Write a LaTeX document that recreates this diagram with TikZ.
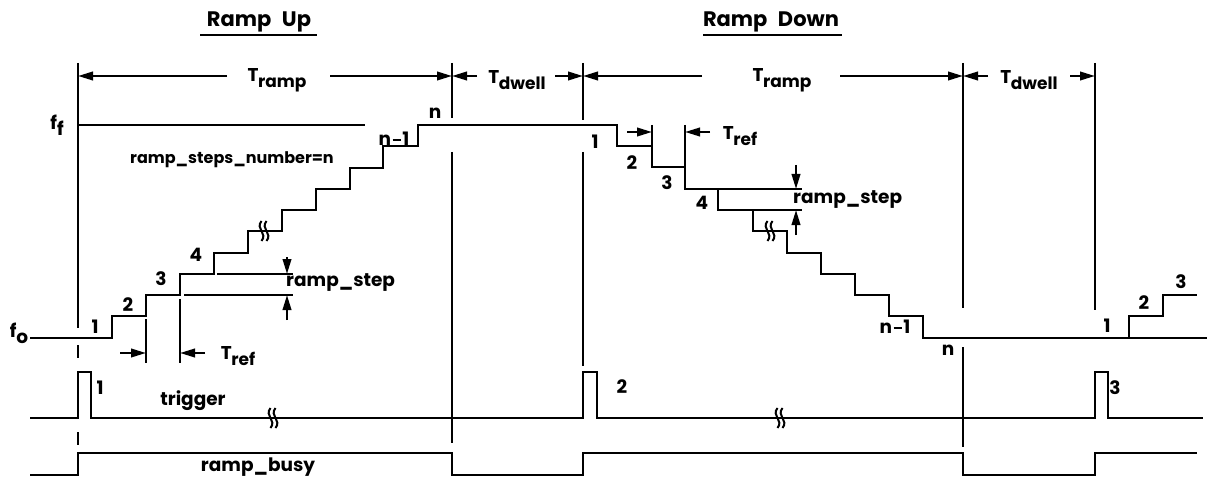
\documentclass[tikz,border=0pt]{standalone}
\usepackage{fontspec}
\setmainfont{Poppins}
\usetikzlibrary{arrows.meta}
\begin{document}
\begin{tikzpicture}[x=1pt,y=-1pt,
  ln/.style={line width=2.3pt},
  dimarr/.style={line width=2.3pt,-{Triangle[length=15pt,width=8.5pt]}},
  ttl/.style={font=\fontsize{21}{21}\selectfont\bfseries,inner sep=0pt},
  lbl/.style={font=\fontsize{18.5}{18.5}\selectfont\bfseries,inner sep=0pt},
  sml/.style={font=\fontsize{16}{16}\selectfont\bfseries,inner sep=0pt},
  brk/.pic={\draw[line width=2pt] (-2.5,-10) .. controls (-9,-2) and (4,2) .. (-2.5,10);
            \draw[line width=2pt] (2.5,-10) .. controls (-4,-2) and (9,2) .. (2.5,10);}]
\useasboundingbox (0,0) rectangle (1207,481);
\newcommand{\Tsub}[1]{T\kern-0.02em\raisebox{-0.55ex}{\fontsize{17}{17}\selectfont #1}}
\newcommand{\nmo}{n\kern1.5pt\rule[0.28em]{0.45em}{1.8pt}\kern1.5pt1}

% titles
\node[ttl] (ru) at (259,22) {Ramp\hspace{0.5em}Up};
\draw[ln] (200,35) -- (317,35);
\node[ttl] (rd) at (771,22) {Ramp\hspace{0.5em}Down};
\draw[ln] (703,35) -- (842,35);

% vertical reference lines
\draw[ln] (78,63) -- (78,328) (78,345) -- (78,358) (78,432) -- (78,445);
\draw[ln] (452,63) -- (452,118) (452,152) -- (452,443);
\draw[ln] (583,63) -- (583,120) (583,152) -- (583,366);
\draw[ln] (963,63) -- (963,308) (963,347) -- (963,447);
\draw[ln] (1095,63) -- (1095,310);

% time dimensions
\node[lbl] (tr1) at (277,80) {\Tsub{ramp}};
\draw[dimarr] (227,76) -- (78,76);
\draw[dimarr] (330,76) -- (452,76);
\node[lbl] (td1) at (517,80) {\Tsub{dwell}};
\draw[dimarr] (477,76) -- (452,76);
\draw[dimarr] (555,76) -- (583,76);
\node[lbl] (tr2) at (782,80) {\Tsub{ramp}};
\draw[dimarr] (702,76) -- (583,76);
\draw[dimarr] (840,76) -- (963,76);
\node[lbl] (td2) at (1029,80) {\Tsub{dwell}};
\draw[dimarr] (988,76) -- (963,76);
\draw[dimarr] (1070,76) -- (1095,76);

% frequency levels
\node[lbl] (ff) at (57,125) {f\raisebox{-0.55ex}{f}};
\node[lbl] (fo) at (19,333) {f\raisebox{-0.55ex}{o}};
\draw[ln] (78,125) -- (365,125);

% staircase
\draw[ln] (30,338) -- (112,338) -- (112,316) -- (146,316) -- (146,295) -- (180,295)
  -- (180,274) -- (214,274) -- (214,253) -- (248,253) -- (248,231) -- (282,231)
  -- (282,210) -- (316,210) -- (316,189) -- (350,189) -- (350,168) -- (383,168)
  -- (383,146) -- (418,146) -- (418,125) -- (617,125) -- (617,146) -- (652,146)
  -- (652,167) -- (685,167) -- (685,189) -- (718,189) -- (718,210) -- (753,210)
  -- (753,231) -- (787,231) -- (787,253) -- (821,253) -- (821,274) -- (855,274)
  -- (855,295) -- (889,295) -- (889,316) -- (923,316) -- (923,338) -- (1207,338);
\draw[ln] (1129,338) -- (1129,316) -- (1163,316) -- (1163,295) -- (1197,295);
\pic at (264,231) {brk};
\pic at (770,231) {brk};

% step labels
\node[lbl] (u1) at (95,327) {1};
\node[lbl] (u2) at (128,305) {2};
\node[lbl] (u3) at (161,279) {3};
\node[lbl] (u4) at (196,255) {4};
\node[lbl] (un1) at (394,139) {\nmo};
\node[lbl] (un) at (435,113) {n};
\node[sml] (rsn) at (232,160) {ramp\_steps\_number=n};
\node[lbl] (d1) at (595,142) {1};
\node[lbl] (d2) at (632,163) {2};
\node[lbl] (d3) at (667,183) {3};
\node[lbl] (d4) at (702,203) {4};
\node[lbl] (dn1) at (895,327) {\nmo};
\node[lbl] (dn) at (948,350) {n};
\node[lbl] (e1) at (1107,326) {1};
\node[lbl] (e2) at (1144,303) {2};
\node[lbl] (e3) at (1181,282) {3};

% ramp_step (up)
\draw[ln] (217,274) -- (293,274);
\draw[ln] (184,295) -- (293,295);
\draw[dimarr] (287,257) -- (287,274);
\draw[dimarr] (287,320) -- (287,295);
\node[lbl,anchor=west] (rs1) at (286,283) {ramp\_step};
% ramp_step (down)
\draw[ln] (718,189) -- (802,189);
\draw[ln] (753,210) -- (802,210);
\draw[dimarr] (796,165) -- (796,189);
\draw[dimarr] (796,235) -- (796,210);
\node[lbl,anchor=west] (rs2) at (793,200) {ramp\_step};

% T_ref (up)
\draw[ln] (146,319) -- (146,363);
\draw[ln] (180,299) -- (180,363);
\draw[dimarr] (120,353) -- (146,353);
\draw[dimarr] (205,353) -- (180,353);
\node[lbl] (tf1) at (238,356) {\Tsub{ref}};
% T_ref (down)
\draw[ln] (652,125) -- (652,146);
\draw[ln] (685,125) -- (685,167);
\draw[dimarr] (627,132) -- (652,132);
\draw[dimarr] (710,132) -- (685,132);
\node[lbl] (tf2) at (740,136) {\Tsub{ref}};

% trigger
\draw[ln] (30,418) -- (78,418) -- (78,372) -- (91,372) -- (91,418) -- (583,418)
  -- (583,372) -- (597,372) -- (597,418) -- (1095,418) -- (1095,372) -- (1108,372)
  -- (1108,418) -- (1203,418);
\pic at (273,418) {brk};
\pic at (780,418) {brk};
\node[lbl] (t1) at (100,388) {1};
\node[lbl] (tg) at (193,401) {trigger};
\node[lbl] (t2) at (622,387) {2};
\node[lbl] (t3) at (1115,388) {3};

% ramp_busy
\draw[ln] (30,475) -- (78,475) -- (78,453) -- (452,453) -- (452,475) -- (583,475)
  -- (583,453) -- (963,453) -- (963,475) -- (1095,475) -- (1095,453) -- (1197,453);
\node[lbl] (rb) at (258,467) {ramp\_busy};
\end{tikzpicture}
\end{document}
